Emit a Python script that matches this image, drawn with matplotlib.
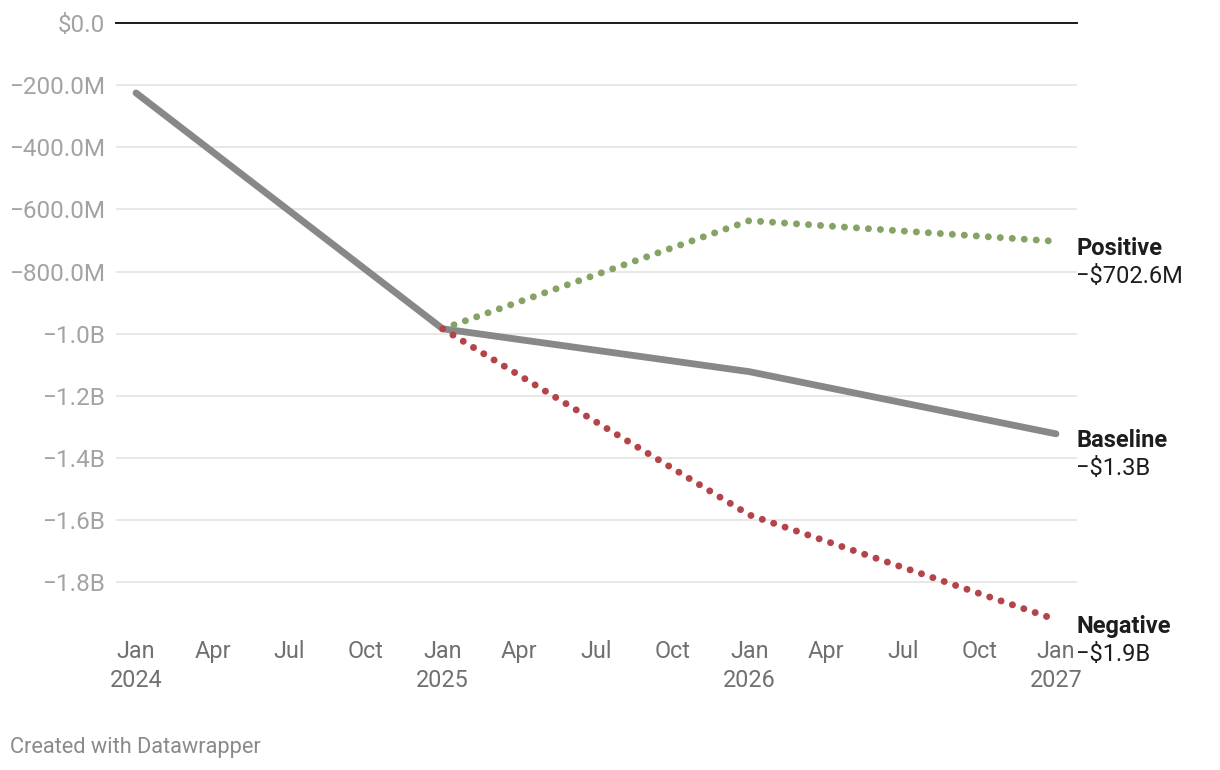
import numpy as np
import matplotlib
matplotlib.use("Agg")
import matplotlib.pyplot as plt

# Data (values in dollars, x in fractional years)
years = [2024, 2025, 2026, 2027]
baseline = [-225e6, -984e6, -1122e6, -1322e6]
positive = [np.nan, -984e6, -636e6, -702.6e6]
negative = [np.nan, -984e6, -1583e6, -1920e6]

end_labels = [("Positive", "−$702.6M", positive[-1]),
              ("Baseline", "−$1.3B", baseline[-1]),
              ("Negative", "−$1.9B", negative[-1])]

y_ticks = [0, -200e6, -400e6, -600e6, -800e6, -1.0e9, -1.2e9, -1.4e9, -1.6e9, -1.8e9]
y_labels = ["$0.0", "−200.0M", "−400.0M", "−600.0M", "−800.0M",
            "−1.0B", "−1.2B", "−1.4B", "−1.6B", "−1.8B"]

month_names = ["Jan", "Apr", "Jul", "Oct"]

plt.rcParams["font.family"] = ["Roboto", "DejaVu Sans"]

W, H = 1220, 770
fig = plt.figure(figsize=(W / 100, H / 100), dpi=100)
ax = fig.add_axes([116 / W, 1 - 629 / H, (1077 - 116) / W, (629 - 23) / H])

# grid
for v in y_ticks[1:]:
    ax.axhline(v, color="#e1e1e1", lw=1.1, zorder=1)
ax.axhline(0, color="#1a1a1a", lw=1.4, zorder=2, clip_on=False)

GREEN = "#85a364"
RED = "#b3444a"
GRAY = "#888888"

ax.plot(years, baseline, color=GRAY, lw=4.9, solid_capstyle="round",
        solid_joinstyle="round", zorder=3)
ax.plot(years, positive, color=GREEN, lw=5.0, linestyle=(0, (0.01, 1.72)),
        dash_capstyle="round", zorder=4)
ax.plot(years, negative, color=RED, lw=5.0, linestyle=(0, (0.01, 1.72)),
        dash_capstyle="round", zorder=4)

# end labels
for name, val, y in end_labels:
    ax.annotate(name, xy=(years[-1], y), xytext=(14.5, -5), textcoords="offset points",
                ha="left", va="center", fontsize=17, fontweight="bold",
                color="#1d1d1d", annotation_clip=False)
    ax.annotate(val, xy=(years[-1], y), xytext=(14.5, -25), textcoords="offset points",
                ha="left", va="center", fontsize=17, color="#1d1d1d",
                annotation_clip=False)

# x axis
xt, xl = [], []
for yr in range(2024, 2028):
    for i, m in enumerate(month_names):
        if yr == 2027 and i > 0:
            continue
        xt.append(yr + i * 3 / 12)
        xl.append(f"{m}\n{yr}" if i == 0 else m)
ax.set_xticks(xt)
ax.set_xticklabels(xl, fontsize=16.8, color="#707070", linespacing=1.3)
ax.tick_params(axis="x", length=0, pad=8)
for lab in ax.get_xticklabels():
    lab.set_verticalalignment("top")

ax.set_yticks(y_ticks)
ax.set_yticklabels(y_labels, fontsize=17.5, color="#a3a3a3")
ax.tick_params(axis="y", length=0, pad=8)
for lab in ax.get_yticklabels():
    lab.set_verticalalignment("center_baseline")

ax.set_xlim(2024 - 20 / 306.7, 2027 + 21 / 306.7)
ax.set_ylim(-1.95e9, 0)
for s in ax.spines.values():
    s.set_visible(False)

fig.text(10 / W, 1 - 748 / H, "Created with Datawrapper", fontsize=15.7,
         color="#8a8a8a", ha="left", va="center")

fig.savefig("out.png", dpi=100)
